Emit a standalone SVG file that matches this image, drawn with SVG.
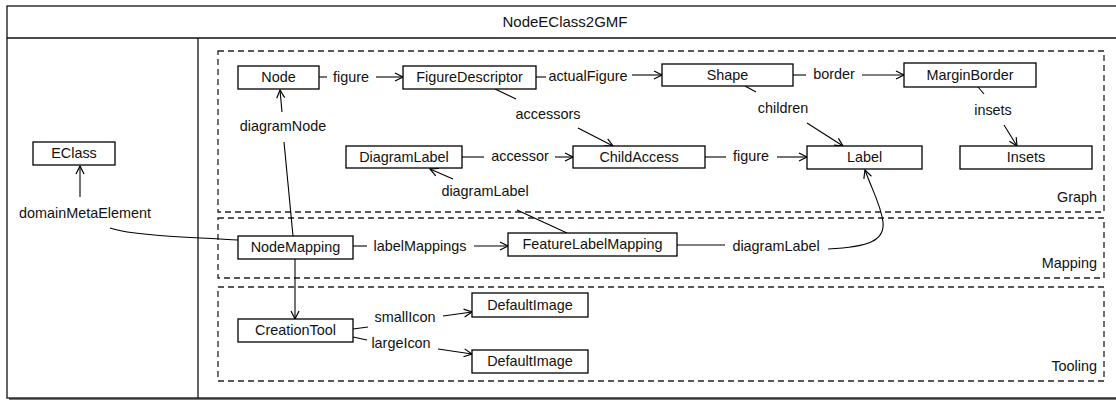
<svg xmlns="http://www.w3.org/2000/svg" width="1116" height="402" viewBox="0 0 1116 402">
<defs>
<marker id="arr" markerUnits="userSpaceOnUse" markerWidth="12" markerHeight="12" viewBox="0 0 12 12" refX="10" refY="6" orient="auto">
<path d="M2,2 L10,6 L2,10" fill="none" stroke="#000" stroke-width="1.2"/>
</marker>
<style>
text{font-family:"Liberation Sans",Arial,sans-serif;font-size:14.4px;fill:#111;}
.c{text-anchor:middle;}
.e{text-anchor:end;}
.n rect{fill:#fff;stroke:#000;stroke-width:1.3;}
.box{fill:none;stroke:#222;stroke-width:1.3;stroke-dasharray:6,4;}
.ln{fill:none;stroke:#000;stroke-width:1.1;}
.a{marker-end:url(#arr);}
</style>
</defs>
<rect width="1116" height="402" fill="#fff"/>
<rect x="9" y="8" width="1116" height="392" fill="#777"/>
<rect x="7" y="6" width="1116" height="392" fill="#fff" stroke="#111" stroke-width="1.3"/>
<line x1="7" y1="38" x2="1116" y2="38" stroke="#111" stroke-width="1.3"/>
<line x1="198" y1="38" x2="198" y2="398" stroke="#111" stroke-width="1.3"/>
<text class="c" x="565" y="27" style="font-size:15px">NodeEClass2GMF</text>

<g id="groups">
<rect class="box" x="218" y="51" width="886" height="161"/>
<text class="e" x="1097" y="202">Graph</text>
<rect class="box" x="218" y="218" width="886" height="60"/>
<text class="e" x="1097" y="268">Mapping</text>
<rect class="box" x="218" y="287" width="886" height="94"/>
<text class="e" x="1097" y="371">Tooling</text>
</g>

<g id="connectors">
<path class="ln" d="M319,77 H327"/>
<text class="c" x="351" y="82">figure</text>
<path class="ln a" d="M376,77 H403"/>
<path class="ln" d="M536,77 H546"/>
<text class="c" x="588" y="81">actualFigure</text>
<path class="ln a" d="M632,75 H662"/>
<path class="ln" d="M793,75 H806"/>
<text class="c" x="834" y="79">border</text>
<path class="ln a" d="M862,75 H904"/>
<path class="ln" d="M745,86 L756,92"/>
<text class="c" x="783" y="113">children</text>
<path class="ln a" d="M807,123 L843,146"/>
<path class="ln" d="M978,87 L984,94"/>
<text class="c" x="993" y="115">insets</text>
<path class="ln a" d="M1004,125 L1017,146"/>
<path class="ln" d="M495,89 L516,99"/>
<text class="c" x="548" y="119">accessors</text>
<path class="ln a" d="M578,128 L613,146"/>
<path class="ln" d="M462,157 H484"/>
<text class="c" x="520" y="161">accessor</text>
<path class="ln a" d="M555,157 H573"/>
<path class="ln" d="M705,157 H726"/>
<text class="c" x="751" y="161">figure</text>
<path class="ln a" d="M777,157 H807"/>
<path class="ln" d="M567,233 L517,210"/>
<text class="c" x="485" y="196">diagramLabel</text>
<path class="ln a" d="M453,179 L430,169"/>
<path class="ln" d="M677,245 H725"/>
<text class="c" x="776" y="251">diagramLabel</text>
<path class="ln a" d="M828,249 C870,247 885,240 883,222 C881,205 872,190 865,170"/>
<path class="ln" d="M293,236 L284,142"/>
<text class="c" x="283" y="131">diagramNode</text>
<path class="ln a" d="M282,112 L280,90"/>
<path class="ln" d="M238,240 C180,237 130,235 110,228"/>
<text class="c" x="85" y="218">domainMetaElement</text>
<path class="ln a" d="M80,197 L80,166"/>
<path class="ln" d="M353,246 H367"/>
<text class="c" x="420" y="251">labelMappings</text>
<path class="ln a" d="M474,246 H508"/>
<path class="ln a" d="M295,259 V319"/>
<path class="ln" d="M353,329 L368,327"/>
<text class="c" x="405" y="322">smallIcon</text>
<path class="ln a" d="M443,316 L472,312"/>
<path class="ln" d="M353,337 L367,340"/>
<text class="c" x="401" y="348">largeIcon</text>
<path class="ln a" d="M438,349 L472,354"/>
</g>

<g id="EClass" class="n"><rect x="33" y="142" width="82" height="23"/><text class="c" x="74" y="158">EClass</text></g>
<g id="Node" class="n"><rect x="238" y="66" width="81" height="23"/><text class="c" x="278.5" y="82">Node</text></g>
<g id="FigureDescriptor" class="n"><rect x="403" y="66" width="133" height="23"/><text class="c" x="469.5" y="82">FigureDescriptor</text></g>
<g id="Shape" class="n"><rect x="662" y="64" width="131" height="22"/><text class="c" x="727.5" y="80">Shape</text></g>
<g id="MarginBorder" class="n"><rect x="904" y="63" width="132" height="24"/><text class="c" x="970" y="80">MarginBorder</text></g>
<g id="DiagramLabel" class="n"><rect x="346" y="146" width="116" height="22"/><text class="c" x="404" y="162">DiagramLabel</text></g>
<g id="ChildAccess" class="n"><rect x="573" y="146" width="132" height="22"/><text class="c" x="639" y="162">ChildAccess</text></g>
<g id="Label" class="n"><rect x="807" y="146" width="115" height="23"/><text class="c" x="864.5" y="162">Label</text></g>
<g id="Insets" class="n"><rect x="960" y="146" width="132" height="23"/><text class="c" x="1026" y="162">Insets</text></g>
<g id="NodeMapping" class="n"><rect x="238" y="236" width="115" height="23"/><text class="c" x="295.5" y="252">NodeMapping</text></g>
<g id="FeatureLabelMapping" class="n"><rect x="508" y="233" width="169" height="23"/><text class="c" x="592.5" y="249">FeatureLabelMapping</text></g>
<g id="CreationTool" class="n"><rect x="238" y="319" width="115" height="23"/><text class="c" x="295.5" y="335">CreationTool</text></g>
<g id="DefaultImage1" class="n"><rect x="472" y="293" width="116" height="24"/><text class="c" x="530" y="310">DefaultImage</text></g>
<g id="DefaultImage2" class="n"><rect x="472" y="350" width="116" height="23"/><text class="c" x="530" y="366">DefaultImage</text></g>
</svg>
